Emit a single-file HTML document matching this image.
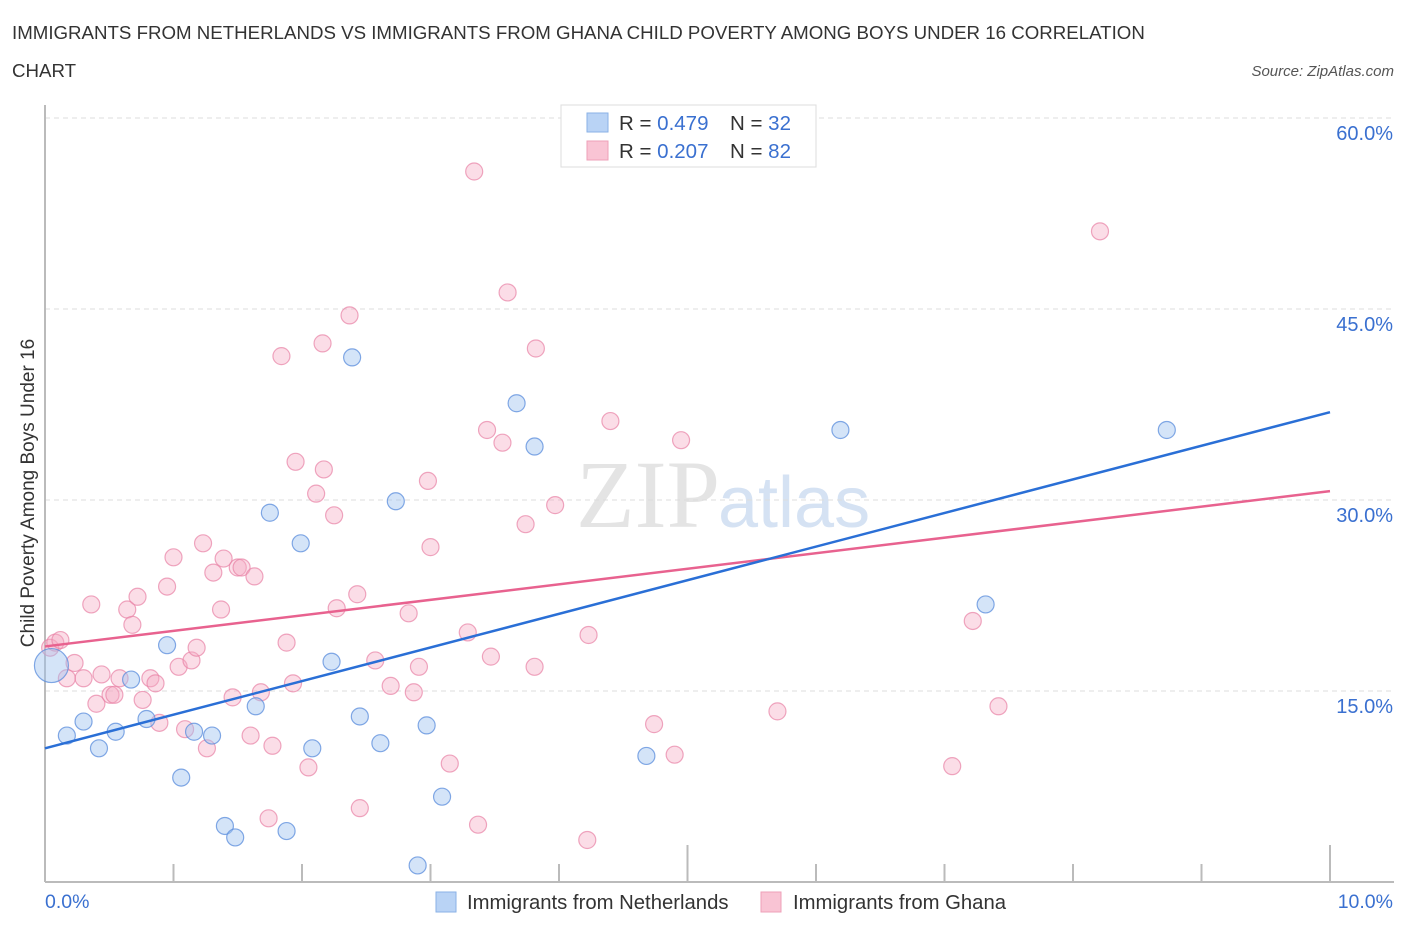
<!DOCTYPE html>
<html><head><meta charset="utf-8"><style>
body{margin:0;background:#fff;width:1406px;height:930px;overflow:hidden;font-family:"Liberation Sans",sans-serif}
</style></head><body>
<svg id="chart" width="1406" height="930" xmlns="http://www.w3.org/2000/svg">
<text x="12" y="39" font-size="18.7" fill="#333">IMMIGRANTS FROM NETHERLANDS VS IMMIGRANTS FROM GHANA CHILD POVERTY AMONG BOYS UNDER 16 CORRELATION</text>
<text x="12" y="77" font-size="18.7" fill="#333">CHART</text>
<text x="1394" y="76" font-size="15" fill="#555" font-style="italic" text-anchor="end">Source: ZipAtlas.com</text>
<text x="720" y="527" font-size="96" fill="#e4e4e4" text-anchor="end" font-family="Liberation Serif,serif">ZIP</text>
<text x="718" y="527" font-size="72" fill="#d5e2f3">atlas</text>
<text transform="translate(34,493) rotate(-90)" font-size="19" fill="#333" text-anchor="middle">Child Poverty Among Boys Under 16</text>
<g id="grid"></g><g id="marks"></g>
<g>
<rect x="561" y="105" width="255" height="62" fill="#fff" stroke="#ddd"/>
<rect x="587" y="113" width="21" height="19" fill="#b9d3f5" stroke="#8ab2e6"/>
<rect x="587" y="141" width="21" height="19" fill="#f9c4d4" stroke="#eea0b8"/>
<text x="619" y="130" font-size="20.5" fill="#333">R = <tspan fill="#3a70d0">0.479</tspan></text>
<text x="730" y="130" font-size="20.5" fill="#333">N = <tspan fill="#3a70d0">32</tspan></text>
<text x="619" y="158" font-size="20.5" fill="#333">R = <tspan fill="#3a70d0">0.207</tspan></text>
<text x="730" y="158" font-size="20.5" fill="#333">N = <tspan fill="#3a70d0">82</tspan></text>
</g>
<g>
<rect x="436" y="892" width="20" height="20" fill="#b9d3f5" stroke="#8ab2e6"/>
<text x="467" y="909" font-size="20.3" fill="#333">Immigrants from Netherlands</text>
<rect x="761" y="892" width="20" height="20" fill="#f9c4d4" stroke="#eea0b8"/>
<text x="793" y="909" font-size="20.3" fill="#333">Immigrants from Ghana</text>
</g>
</svg>
<script>
const blueX=[0.05,0.17,0.30,0.42,0.55,0.67,0.79,0.95,1.06,1.16,1.30,1.40,1.48,1.64,1.75,1.88,1.99,2.08,2.23,2.39,2.45,2.61,2.73,2.90,2.97,3.09,3.67,3.81,4.68,6.19,7.32,8.73];
const blueY=[17.0,11.5,12.6,10.5,11.8,15.9,12.8,18.6,8.2,11.8,11.5,4.4,3.5,13.8,29.0,4.0,26.6,10.5,17.3,41.2,13.0,10.9,29.9,1.3,12.3,6.7,37.6,34.2,9.9,35.5,21.8,35.5];
const pinkX=[0.04,0.08,0.12,0.17,0.23,0.30,0.36,0.40,0.44,0.51,0.54,0.58,0.64,0.68,0.72,0.76,0.82,0.86,0.89,0.95,1.00,1.04,1.09,1.14,1.18,1.23,1.26,1.31,1.37,1.39,1.46,1.50,1.53,1.60,1.63,1.68,1.74,1.77,1.84,1.88,1.93,1.95,2.05,2.11,2.16,2.17,2.25,2.27,2.37,2.43,2.45,2.57,2.69,2.83,2.87,2.91,2.98,3.00,3.15,3.29,3.34,3.37,3.44,3.47,3.56,3.60,3.74,3.81,3.82,3.97,4.23,4.22,4.40,4.74,4.90,4.95,5.70,7.06,7.22,7.42,8.21];
const pinkY=[18.4,18.8,19.0,16.0,17.2,16.0,21.8,14.0,16.3,14.7,14.7,16.0,21.4,20.2,22.4,14.3,16.0,15.6,12.5,23.2,25.5,16.9,12.0,17.4,18.4,26.6,10.5,24.3,21.4,25.4,14.5,24.7,24.7,11.5,24.0,14.9,5.0,10.7,41.3,18.8,15.6,33.0,9.0,30.5,42.3,32.4,28.8,21.5,44.5,22.6,5.8,17.4,15.4,21.1,14.9,16.9,31.5,26.3,9.3,19.6,55.8,4.5,35.5,17.7,34.5,46.3,28.1,16.9,41.9,29.6,19.4,3.3,36.2,12.4,10.0,34.7,13.4,9.1,20.5,13.8,51.1];
const blueTrend=[10.5,36.9];
const pinkTrend=[18.5,30.7];
const yTicks=[15,30,45,60];
const yTickLabels=["15.0%","30.0%","45.0%","60.0%"];
const xTicks=[0,1,2,3,4,5,6,7,8,9,10];
const xLabels=["0.0%","10.0%"];
const NS="http://www.w3.org/2000/svg";
const sx=v=>45+v*128.5, sy=v=>882-v*12.733;
function mk(t,a,p){const e=document.createElementNS(NS,t);for(const k in a)e.setAttribute(k,a[k]);p.appendChild(e);return e;}
const grid=document.getElementById('grid'), marks=document.getElementById('marks');
yTicks.forEach((v,i)=>{
  const l=mk('line',{x1:45,x2:1394,y1:sy(v),y2:sy(v),stroke:'#ddd','stroke-dasharray':'5,4'},grid);
  
  
  const t=mk('text',{x:1393,y:sy(v)+22,'font-size':20,fill:'#3a70d0','text-anchor':'end'},grid);
  t.textContent=yTickLabels[i];
  
  
});
const ax=mk('line',{x1:45,x2:45,y1:105,y2:882,stroke:'#bbb','stroke-width':2},grid);


const bx=mk('line',{x1:45,x2:1394,y1:882,y2:882,stroke:'#bbb','stroke-width':2},grid);


xTicks.forEach(v=>{
  if(v===0)return;
  const top=(v%5===0)?845:864;
  const t=mk('line',{x1:sx(v),x2:sx(v),y1:top,y2:882,stroke:'#bbb','stroke-width':2},grid);
  
  
});
[[0,'start',45],[10,'end',1393]].forEach((d,i)=>{
  const t=mk('text',{x:d[2],y:908,'font-size':19.5,fill:'#3a70d0','text-anchor':d[1]},grid);
  t.textContent=xLabels[i];
  
  
});
pinkX.forEach((x,i)=>{
  const c=mk('circle',{cx:sx(x),cy:sy(pinkY[i]),r:8.5,fill:'rgba(246,170,195,0.4)',stroke:'rgba(232,130,165,0.7)','stroke-width':1.2},marks);
  
  
});
blueX.forEach((x,i)=>{
  const c=mk('circle',{cx:sx(x),cy:sy(blueY[i]),r:i===0?17:8.5,fill:'rgba(160,195,240,0.45)',stroke:'rgba(90,140,220,0.75)','stroke-width':1.2},marks);
  
  
});
const pl=mk('line',{x1:sx(0),y1:sy(pinkTrend[0]),x2:sx(10),y2:sy(pinkTrend[1]),stroke:'#e8628f','stroke-width':2.5},marks);


const bl=mk('line',{x1:sx(0),y1:sy(blueTrend[0]),x2:sx(10),y2:sy(blueTrend[1]),stroke:'#2a6fd6','stroke-width':2.5},marks);


</script>
</body></html>
